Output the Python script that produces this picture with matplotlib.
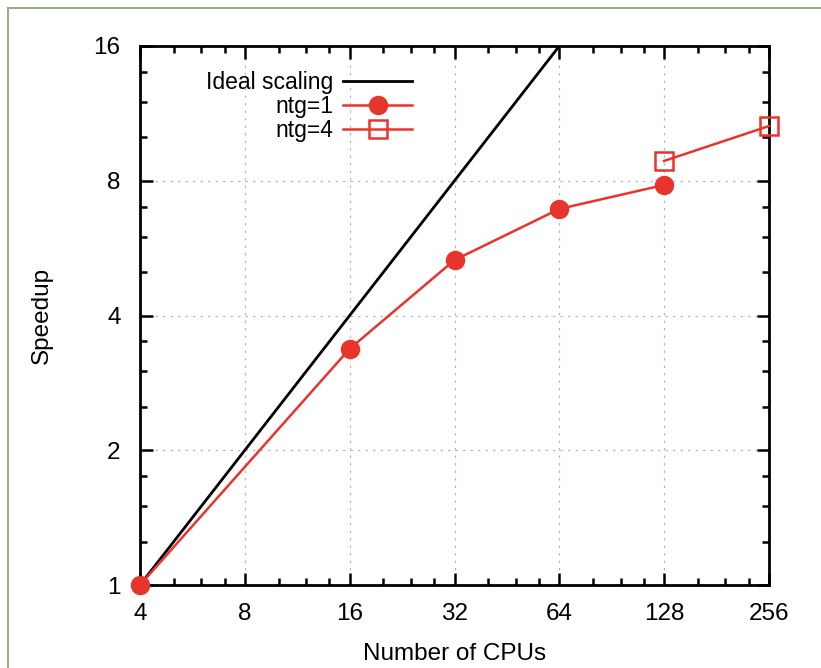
import matplotlib
matplotlib.use("Agg")
import matplotlib.pyplot as plt
from matplotlib.ticker import LogLocator, FixedLocator, FixedFormatter, NullFormatter
from matplotlib.lines import Line2D

plt.rcParams['font.family'] = ['Liberation Sans', 'DejaVu Sans']

# Data
cpus_ideal = [4, 64]
speedup_ideal = [1, 16]
cpus_ntg1 = [4, 16, 32, 64, 128]
speedup_ntg1 = [1.0, 3.37, 5.32, 6.92, 7.83]
cpus_ntg4 = [128, 256]
speedup_ntg4 = [8.86, 10.6]
x_ticks = [4, 8, 16, 32, 64, 128, 256]
y_ticks = [1, 2, 4, 8, 16]

red = '#e8352c'

fig = plt.figure(figsize=(8.21, 6.68), dpi=100)
ax = fig.add_axes([140/821, 1 - 585/668, (769-140)/821, (585-46)/668])

ax.set_xscale('log', base=2)
ax.set_yscale('log', base=2)
ax.set_xlim(4, 256)
ax.set_ylim(1, 16)

ax.plot(cpus_ideal, speedup_ideal, color='black', lw=2, label='Ideal scaling', zorder=3)
ax.plot(cpus_ntg1, speedup_ntg1, color=red, lw=1.8, marker='o', ms=13,
        markeredgecolor=red, markerfacecolor=red, label='ntg=1', zorder=4, clip_on=False)
ax.plot(cpus_ntg4, speedup_ntg4, color=red, lw=1.8, marker='s', ms=13,
        markeredgecolor=red, markerfacecolor='none', markeredgewidth=1.8, label='ntg=4',
        zorder=4, clip_on=False)

ax.xaxis.set_major_locator(FixedLocator(x_ticks))
ax.xaxis.set_major_formatter(FixedFormatter([str(v) for v in x_ticks]))
ax.yaxis.set_major_locator(FixedLocator(y_ticks))
ax.yaxis.set_major_formatter(FixedFormatter([str(v) for v in y_ticks]))
ax.xaxis.set_minor_locator(LogLocator(base=2, subs=(1.25, 1.5, 1.75)))
ax.yaxis.set_minor_locator(LogLocator(base=2, subs=(1.25, 1.5, 1.75)))
ax.xaxis.set_minor_formatter(NullFormatter())
ax.yaxis.set_minor_formatter(NullFormatter())

ax.tick_params(which='both', direction='in', top=True, right=True, width=1.8, labelsize=17.5)
ax.tick_params(which='major', length=9)
ax.tick_params(axis='x', which='major', pad=13)
ax.tick_params(axis='y', which='major', pad=14)
ax.tick_params(which='minor', length=5)
for s in ax.spines.values():
    s.set_linewidth(2)

ax.grid(True, which='major', color='#b8b8b8', linestyle=(0, (2, 4)), linewidth=0.9)
ax.set_axisbelow(True)

ax.set_xlabel('Number of CPUs', fontsize=17.5, labelpad=13)
ax.set_ylabel('Speedup', fontsize=17.5, labelpad=29)

leg = ax.legend(loc='upper right', frameon=False, markerfirst=False, fontsize=16.5,
                handlelength=3.0, labelspacing=0.05,
                bbox_to_anchor=((412-140)/629, 1 - (71-46)/539),
                borderaxespad=0.0, borderpad=0.0, handletextpad=0.45)

# Frame border of the picture
fig.add_artist(Line2D([8/821, 1], [1 - 8/668, 1 - 8/668], transform=fig.transFigure,
                      color='#9aae86', lw=1.5))
fig.add_artist(Line2D([8/821, 8/821], [0, 1 - 8/668], transform=fig.transFigure,
                      color='#9aae86', lw=1.5))

fig.savefig('out.png', dpi=100)
